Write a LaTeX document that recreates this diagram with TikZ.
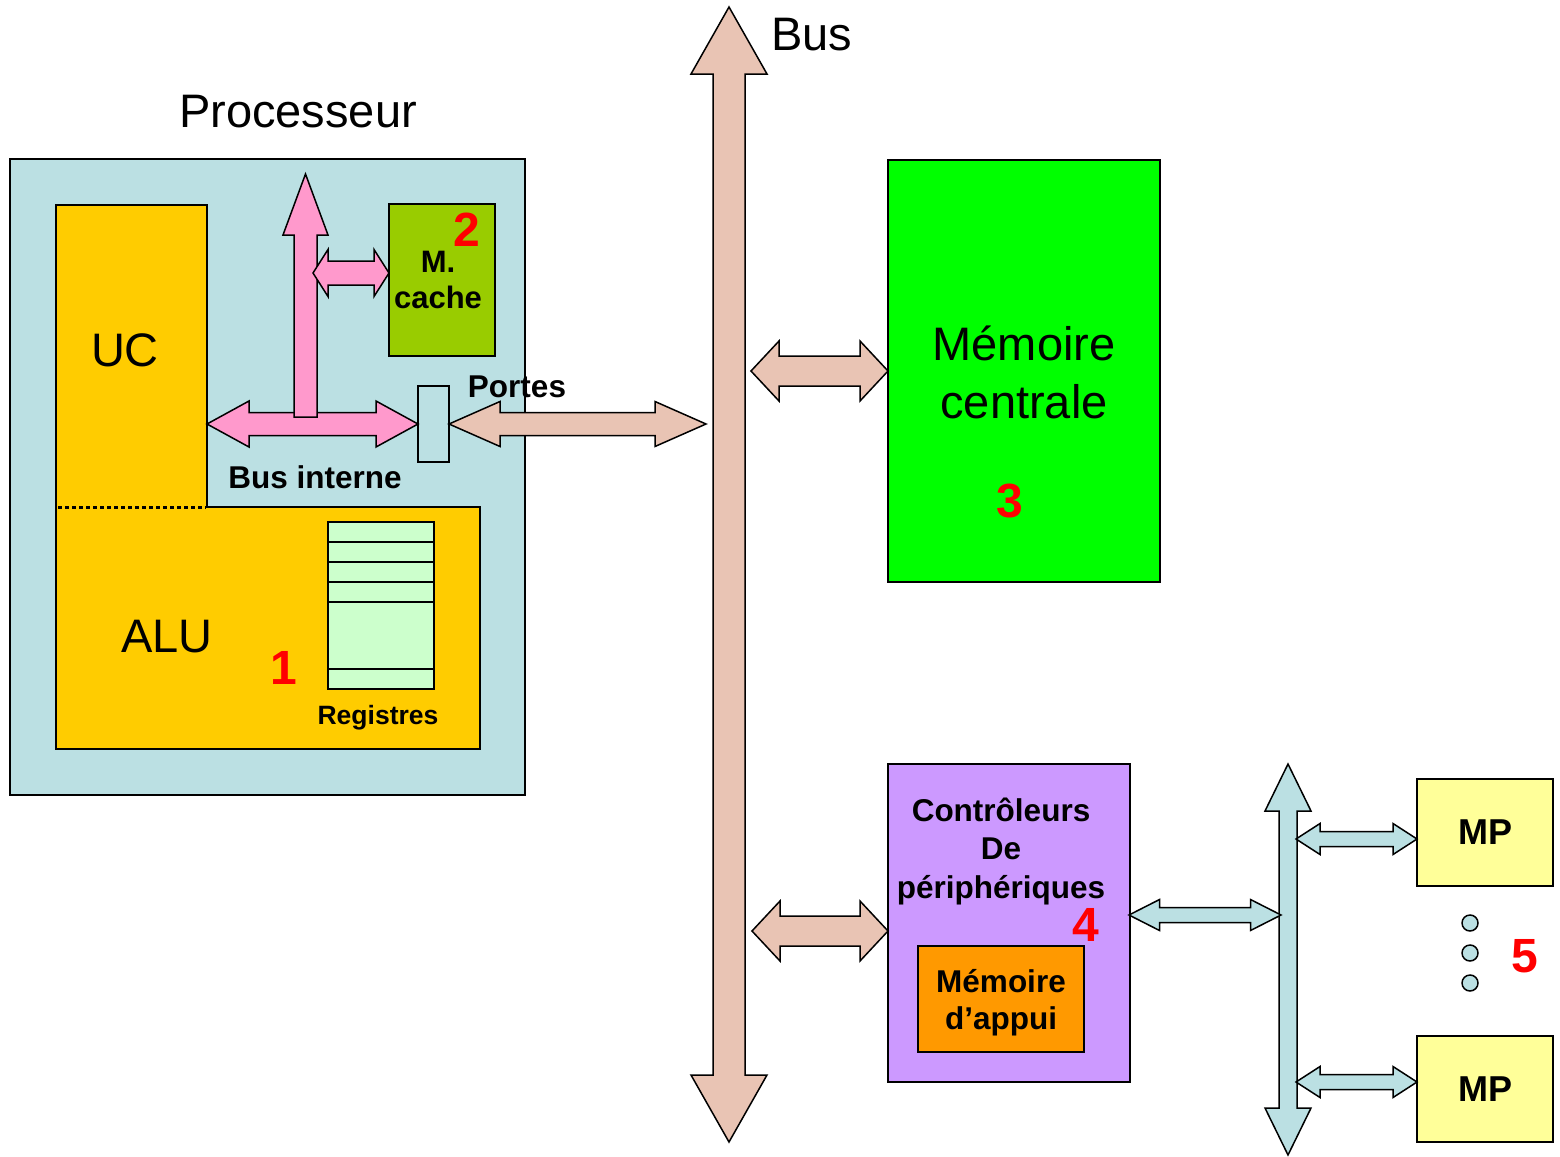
\documentclass[tikz,border=0pt]{standalone}
\usepackage{fontspec}
\setmainfont{Liberation Sans}
\usetikzlibrary{calc}
\definecolor{procbg}{RGB}{187,224,227}
\definecolor{ucalu}{RGB}{255,204,0}
\definecolor{regc}{RGB}{204,255,204}
\definecolor{cachec}{RGB}{153,204,0}
\definecolor{pinkc}{RGB}{255,153,204}
\definecolor{brownc}{RGB}{233,196,180}
\definecolor{memc}{RGB}{0,255,0}
\definecolor{ctrlc}{RGB}{204,153,255}
\definecolor{appuic}{RGB}{255,153,0}
\definecolor{mpc}{RGB}{255,255,153}
% horizontal double block arrow: #2 left tip, #3 right tip, #4 shaft half, #5 head half, #6 head length
\newcommand\blkH[6][]{%
  \filldraw[#1] let \p1=(#2), \p2=(#3) in
   (\x1,\y1) -- (\x1+#6,\y1+#5) -- (\x1+#6,\y1+#4) -- (\x2-#6,\y1+#4) -- (\x2-#6,\y1+#5) -- (\x2,\y1)
   -- (\x2-#6,\y1-#5) -- (\x2-#6,\y1-#4) -- (\x1+#6,\y1-#4) -- (\x1+#6,\y1-#5) -- cycle;}
% vertical double block arrow: #2 top tip, #3 bottom tip
\newcommand\blkV[6][]{%
  \filldraw[#1] let \p1=(#2), \p2=(#3) in
   (\x1,\y1) -- (\x1+#5,\y1-#6) -- (\x1+#4,\y1-#6) -- (\x1+#4,\y2+#6) -- (\x1+#5,\y2+#6) -- (\x1,\y2)
   -- (\x1-#5,\y2+#6) -- (\x1-#4,\y2+#6) -- (\x1-#4,\y1-#6) -- (\x1-#5,\y1-#6) -- cycle;}
% single upward block arrow: #2 tip, #3 base
\newcommand\blkUp[6][]{%
  \filldraw[#1] let \p1=(#2), \p2=(#3) in
   (\x1,\y1) -- (\x1+#5,\y1-#6) -- (\x1+#4,\y1-#6) -- (\x1+#4,\y2) -- (\x1-#4,\y2)
   -- (\x1-#4,\y1-#6) -- (\x1-#5,\y1-#6) -- cycle;}
\begin{document}
\begin{tikzpicture}[x=1pt,y=-1pt,
  box/.style={draw=black,line width=1.5pt,inner sep=0pt,outer sep=0pt,anchor=north west},
  arr/.style={draw=black,line width=1.5pt,line join=miter},
  big/.style={font=\fontsize{47}{58}\selectfont,align=center},
  lbl/.style={font=\bfseries\fontsize{31.5}{38.5}\selectfont,align=center},
  num/.style={text=red,font=\bfseries\fontsize{48}{48}\selectfont}]
\fill[white] (0,0) rectangle (1560,1156);
\useasboundingbox (0,0) rectangle (1560,1156);

% Processor
\node[box,fill=procbg,minimum width=515,minimum height=636] (proc) at (10,159) {};
\node[big] (proct) at (298,112) {Processeur};
\filldraw[fill=ucalu,line width=1.5pt] (56,205) -- (207,205) -- (207,507) -- (480,507) -- (480,749) -- (56,749) -- cycle;
\draw[line width=3pt,dash pattern=on 3.5pt off 3.5pt] (58,507) -- (206,507);
\node[big] (uc) at (125,350) {UC};
\node[big] (alu) at (167,637) {ALU};
\node[box,fill=regc,minimum width=106,minimum height=167] (reg) at (328,522) {};
\foreach \yy in {542,562,582,602,669} \draw[line width=1.5pt] (reg.west |- 0,\yy) -- (reg.east |- 0,\yy);
\node[font=\bfseries\fontsize{26.5}{30}\selectfont] (regt) at (378,718) {Registres};
\node[num] (n1) at (284,668) {1};
\node[box,fill=cachec,minimum width=106,minimum height=152] (cache) at (389,204) {};
\node[font=\bfseries\fontsize{31}{36}\selectfont,align=center] (cachet) at (438,280) {M.\\cache};
\node[num] (n2) at (467,230) {2};
\node[box,fill=procbg,minimum width=31,minimum height=76] (portes) at (418,386) {};

% internal bus arrows
\coordinate (ucR) at (207,424);
\blkH[arr,fill=pinkc]{ucR}{portes.west}{11.5}{23}{42}
\coordinate (vTip) at (305.5,174);
\coordinate (vBase) at (305.5,417);
\blkUp[arr,fill=pinkc]{vTip}{vBase}{11.5}{22.5}{61}
\coordinate (cA) at (313,273);
\blkH[arr,fill=pinkc]{cA}{cache.west |- cA}{12}{23.5}{15}
\coordinate (busP) at (706,424);
\blkH[arr,fill=brownc]{portes.east}{busP}{11.5}{22.5}{51}

% main bus
\coordinate (busT) at (729,7);
\coordinate (busB) at (729,1142);
\blkV[arr,fill=brownc]{busT}{busB}{16}{38}{67}
\node[big] (bust) at (812,35) {Bus};

% memory
\node[box,fill=memc,minimum width=272,minimum height=422] (mem) at (888,160) {};
\node[big] (memt) at (1024,372) {Mémoire\\centrale};
\node[num] (n3) at (1010,501) {3};
\coordinate (memA) at (751,371);
\blkH[arr,fill=brownc]{memA}{mem.west |- memA}{15}{30}{28}

% controllers
\node[box,fill=ctrlc,minimum width=242,minimum height=318] (ctrl) at (888,764) {};
\node[lbl] (ctrlt) at (1001,851) {Contrôleurs\\De\\périphériques};
\node[num] (n4) at (1086,925) {4};
\node[box,fill=appuic,minimum width=166,minimum height=106] (appui) at (918,946) {};
\node[font=\bfseries\fontsize{31.5}{37}\selectfont,align=center] (appuit) at (1001,1003) {Mémoire\\d’appui};
\coordinate (ctrlA) at (752,931);
\blkH[arr,fill=brownc]{ctrlA}{ctrl.west |- ctrlA}{15}{30}{28}

% peripheral bus
\coordinate (lbT) at (1288,764);
\coordinate (lbB) at (1288,1155);
\blkV[arr,fill=procbg]{lbT}{lbB}{9}{23}{47}
\coordinate (lbC) at (1129,915);
\coordinate (lbD) at (1281,915);
\blkH[arr,fill=procbg]{lbC}{lbD}{7.5}{15.5}{30.5}
\node[box,fill=mpc,minimum width=136,minimum height=107,font=\bfseries\fontsize{36}{36}\selectfont] (mp1) at (1417,779) {MP};
\node[box,fill=mpc,minimum width=136,minimum height=106,font=\bfseries\fontsize{36}{36}\selectfont] (mp2) at (1417,1036) {MP};
\coordinate (m1) at (1296,839);
\coordinate (m2) at (1296,1082);
\blkH[arr,fill=procbg]{m1}{mp1.west |- m1}{7.5}{15.5}{24}
\blkH[arr,fill=procbg]{m2}{mp2.west |- m2}{7.5}{15.5}{24}
\foreach \yy/\nm in {923/d1,953/d2,983/d3}
  \node[circle,draw,line width=1.5pt,fill=procbg,minimum size=16,inner sep=0pt] (\nm) at (1470,\yy) {};
\node[num] (n5) at (1525,956) {5};

% labels on top
\node[lbl] (portest) at (517,387) {Portes};
\node[lbl] (busint) at (315,477) {Bus interne};
\end{tikzpicture}
\end{document}
